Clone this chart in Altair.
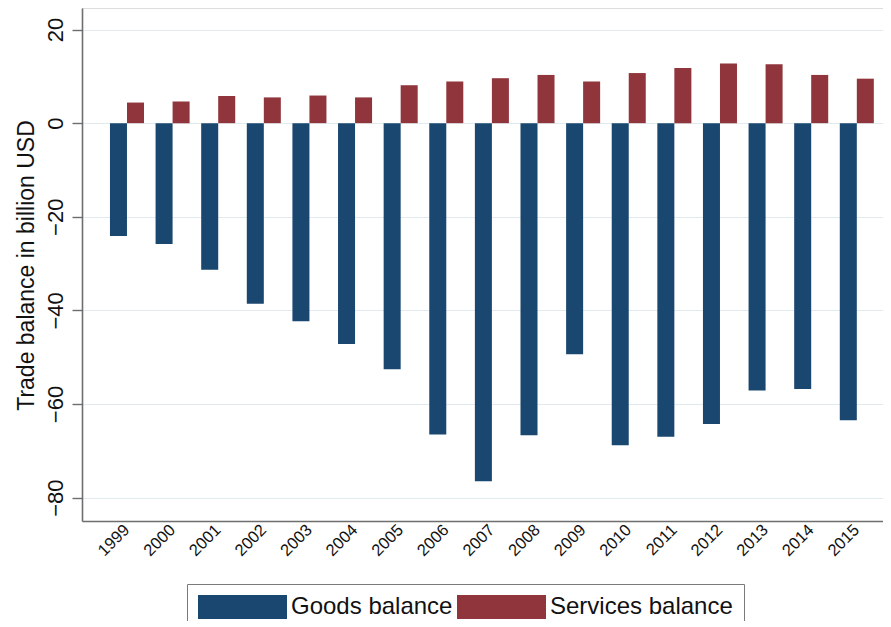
import altair as alt
import pandas as pd

years = [str(y) for y in range(1999, 2016)]
goods = [-24.1, -25.8, -31.3, -38.6, -42.3, -47.2, -52.6, -66.5, -76.5,
         -66.7, -49.4, -68.8, -67.0, -64.3, -57.1, -56.8, -63.5]
services = [4.4, 4.6, 5.8, 5.5, 5.9, 5.5, 8.1, 8.9, 9.6,
            10.3, 8.9, 10.7, 11.8, 12.75, 12.6, 10.3, 9.5]
series_names = ["Goods balance", "Services balance"]
series_colors = ["#1a476f", "#90353b"]
y_ticks = [-80, -60, -40, -20, 0, 20]

rows = []
for i, yr in enumerate(years):
    rows.append({"year": yr, "series": series_names[0], "value": goods[i]})
    rows.append({"year": yr, "series": series_names[1], "value": services[i]})
df = pd.DataFrame(rows)

FONT = "Liberation Sans"
AXIS_COLOR = "#6e6e6e"

chart = (
    alt.Chart(df)
    .mark_bar()
    .encode(
        x=alt.X(
            "year:N",
            sort=years,
            scale=alt.Scale(paddingInner=0.254, paddingOuter=0.407, align=0.753),
            axis=alt.Axis(
                title=None,
                labelAngle=315,
                labelAlign="right",
                labelBaseline="middle",
                labelFontSize=16.5,
                labelFont=FONT,
                labelColor="#111111",
                labelPadding=6,
                ticks=False,
                grid=False,
                domainColor=AXIS_COLOR,
                domainWidth=1.6,
            ),
        ),
        xOffset=alt.XOffset(
            "series:N",
            sort=series_names,
            scale=alt.Scale(paddingInner=0, paddingOuter=0),
        ),
        y=alt.Y(
            "value:Q",
            scale=alt.Scale(domain=[-85, 24.6], nice=False, zero=False),
            axis=alt.Axis(
                values=y_ticks,
                title="Trade balance in billion USD",
                titleFont=FONT,
                titleFontSize=23,
                titleFontWeight="normal",
                titleColor="#111111",
                titleAngle=270,
                titleBaseline="alphabetic",
                titleX=-49,
                titleY=257,
                labelAngle=270,
                labelAlign="center",
                labelBaseline="alphabetic",
                labelFontSize=22,
                labelFont=FONT,
                labelColor="#111111",
                labelPadding=10,
                tickSize=10,
                tickColor=AXIS_COLOR,
                tickWidth=1.4,
                domainColor=AXIS_COLOR,
                domainWidth=1.6,
                grid=True,
                gridColor="#e1eaee",
                gridWidth=1.2,
            ),
        ),
        color=alt.Color(
            "series:N",
            sort=series_names,
            scale=alt.Scale(domain=series_names, range=series_colors),
            legend=alt.Legend(
                title=None,
                orient="none",
                legendX=105,
                legendY=576,
                direction="horizontal",
                symbolType="M-1,-0.27L1,-0.27L1,0.27L-1,0.27Z",
                symbolSize=7921,
                symbolStrokeWidth=0,
                symbolOpacity=1,
                clipHeight=24,
                labelFont=FONT,
                labelFontSize=24,
                labelColor="#111111",
                labelLimit=400,
                labelOffset=4,
                columnPadding=4,
                padding=11,
                strokeColor="#7a7a7a",
                fillColor="white",
            ),
        ),
    )
    .properties(
        width=801,
        height=513,
        autosize=alt.AutoSizeParams(type="none"),
        padding={"left": 74, "top": 0, "right": 0, "bottom": 100},
    )
    .configure_view(stroke="transparent")
    .configure(background="white")
)

chart.save("out.html", embed_options={"renderer": "svg", "actions": False})
